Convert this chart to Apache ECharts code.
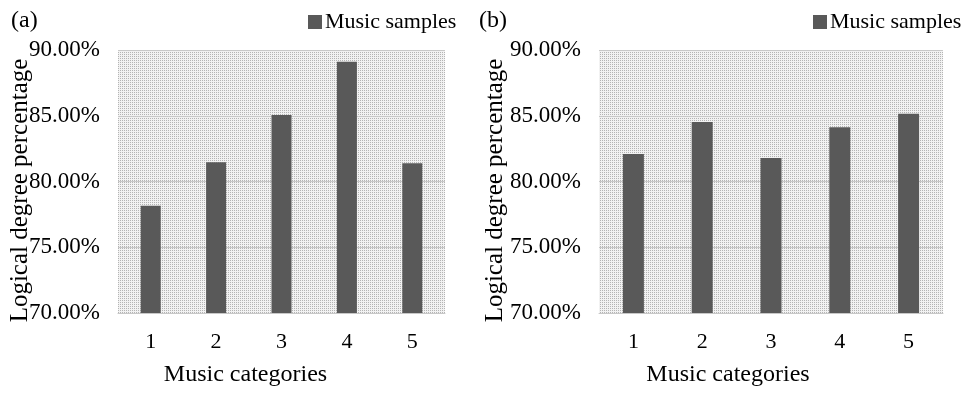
<!DOCTYPE html>
<html>
<head>
<meta charset="utf-8">
<script src="https://cdn.jsdelivr.net/npm/echarts@6/dist/echarts.min.js"></script>
<style>
  html, body { margin: 0; padding: 0; background: #fff; }
  #chart { width: 967px; height: 393px; }
</style>
</head>
<body>
<div id="chart"></div>
<script>
// data
var categories = ['1', '2', '3', '4', '5'];
var valuesA = [78.16, 81.46, 85.06, 89.11, 81.38];
var valuesB = [82.09, 84.52, 81.79, 84.12, 85.16];
var seriesName = 'Music samples';

var font = '"Liberation Serif", "Times New Roman", serif';

// dotted background like the excel pattern fill
var pat = document.createElement('canvas');
pat.width = 2; pat.height = 2;
var pctx = pat.getContext('2d');
pctx.fillStyle = '#f2f2f2';
pctx.fillRect(0, 0, 2, 2);
pctx.fillStyle = '#b4b4b4';
pctx.fillRect(0, 0, 1, 1);

function xAxisFor(idx, shift) {
  return {
    type: 'category',
    gridIndex: idx,
    data: categories,
    name: 'Music categories',
    nameLocation: 'middle',
    nameGap: 50,
    nameMoveOverlap: false,
    nameTextStyle: { fontFamily: font, fontSize: 24, color: '#000', padding: [0, shift * 2, 0, 0] },
    axisLine: { lineStyle: { color: '#c8c8c8', width: 1 } },
    axisTick: { show: false },
    axisLabel: { fontFamily: font, fontSize: 22, color: '#000', margin: 18 }
  };
}

function yAxisFor(idx, gap) {
  return {
    type: 'value',
    gridIndex: idx,
    min: 70,
    max: 90,
    interval: 5,
    name: 'Logical degree percentage',
    nameLocation: 'middle',
    nameGap: gap,
    nameMoveOverlap: false,
    nameTextStyle: { fontFamily: font, fontSize: 25, color: '#000', padding: [0, 18, 0, 0] },
    axisLine: { show: false },
    axisTick: { show: false },
    splitLine: { lineStyle: { color: '#c8c8c8', width: 1 } },
    axisLabel: {
      fontFamily: font, fontSize: 23, color: '#000', margin: 18,
      formatter: function (v) { return v.toFixed(2) + '%'; }
    }
  };
}

function legendAt(x) {
  return {
    left: x, top: 11, padding: 0, itemWidth: 14, itemHeight: 14, itemGap: 4,
    data: [seriesName], icon: 'rect',
    textStyle: { fontFamily: font, fontSize: 22, color: '#000', padding: [0, 0, 0, -2] }
  };
}

var chart = echarts.init(document.getElementById('chart'));
chart.setOption({
  backgroundColor: '#fff',
  animation: false,
  title: [
    { text: '(a)', left: 6, top: 4, textStyle: { fontFamily: font, fontSize: 24, fontWeight: 'normal', color: '#000' } },
    { text: '(b)', left: 474, top: 4, textStyle: { fontFamily: font, fontSize: 24, fontWeight: 'normal', color: '#000' } }
  ],
  legend: [legendAt(308), legendAt(813)],
  grid: [
    { left: 118, right: 522, top: 50, bottom: 80, show: true, borderWidth: 0,
      backgroundColor: { image: pat, repeat: 'repeat' } },
    { left: 599, right: 24, top: 50, bottom: 80, show: true, borderWidth: 0,
      backgroundColor: { image: pat, repeat: 'repeat' } }
  ],
  xAxis: [xAxisFor(0, 36), xAxisFor(1, 43)],
  yAxis: [yAxisFor(0, 85), yAxisFor(1, 91)],
  series: [
    {
      name: seriesName, type: 'bar', xAxisIndex: 0, yAxisIndex: 0,
      barWidth: 20, itemStyle: { color: '#595959' }, data: valuesA
    },
    {
      name: seriesName, type: 'bar', xAxisIndex: 1, yAxisIndex: 1,
      barWidth: 21, itemStyle: { color: '#595959' }, data: valuesB
    }
  ]
});
</script>
</body>
</html>
